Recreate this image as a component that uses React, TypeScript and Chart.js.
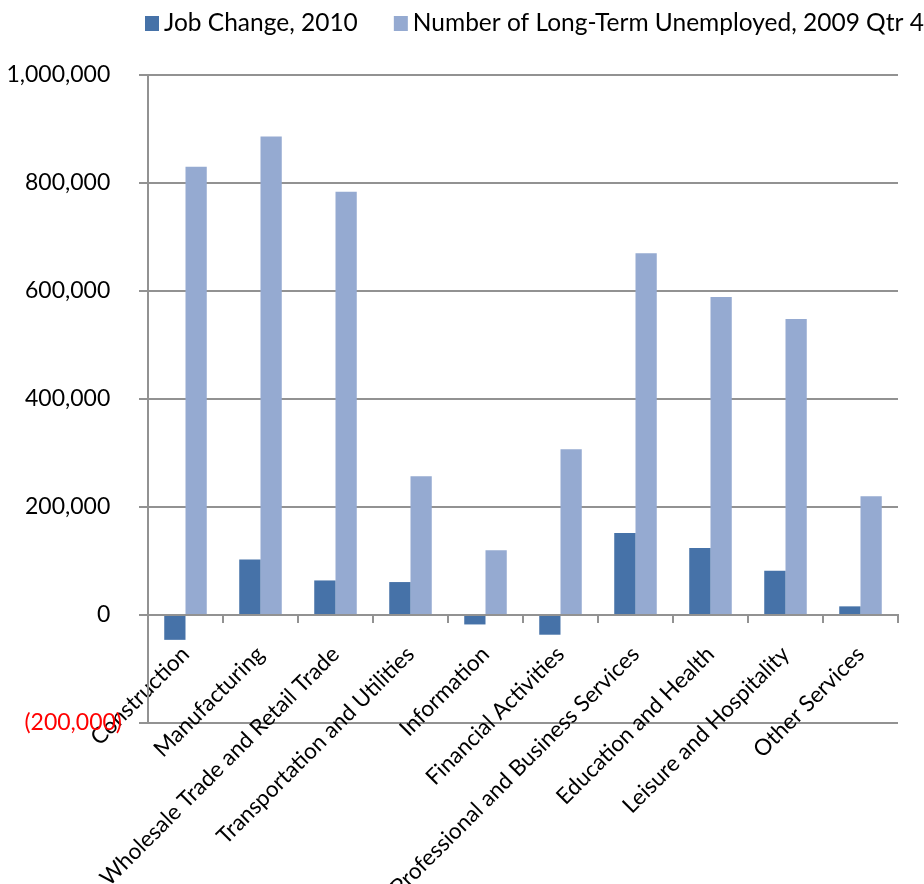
import React, { useEffect, useRef } from "react";
import { Chart, registerables } from "chart.js";

Chart.register(...registerables);

const categories = [
  "Construction",
  "Manufacturing",
  "Wholesale Trade and Retail Trade",
  "Transportation and Utilities",
  "Information",
  "Financial Activities",
  "Professional and Business Services",
  "Education and Health",
  "Leisure and Hospitality",
  "Other Services",
];
const jobChange2010 = [-46000, 103000, 64000, 61000, -17500, -36500, 152000, 124000, 82000, 16000];
const longTermUnemployed2009Q4 = [830000, 886000, 784000, 257000, 120000, 307000, 670000, 589000, 548000, 220000];
const seriesLabels = ["Job Change, 2010", "Number of Long-Term Unemployed, 2009 Qtr 4"];
const yTickMin = -200000;
const yTickMax = 1000000;
const yTickStep = 200000;

const DARK = "#4672A8";
const LIGHT = "#95AAD1";
const GRID = "#929292";
const FONT = "Lato, 'Open Sans', sans-serif";

function formatTick(v: number): string {
  const s = Math.abs(v).toLocaleString("en-US");
  return v < 0 ? `(${s})` : `${s}  `;
}

const fixedLegend = {
  id: "fixedLegend",
  afterDraw(chart: any) {
    const ctx = chart.ctx;
    ctx.save();
    ctx.font = `24.5px ${FONT}`;
    ctx.textAlign = "left";
    ctx.textBaseline = "alphabetic";
    let x = 145;
    chart.data.datasets.forEach((ds: any) => {
      ctx.fillStyle = ds.backgroundColor;
      ctx.fillRect(x, 16, 14, 15);
      ctx.fillStyle = "#000";
      ctx.fillText(ds.label, x + 19, 31);
      x += 19 + ctx.measureText(ds.label).width + 36;
    });
    ctx.restore();
  },
};

export default function App() {
  const ref = useRef<HTMLCanvasElement | null>(null);

  useEffect(() => {
    if (!ref.current) return;
    Chart.defaults.font.family = FONT;
    const chart = new Chart(ref.current, {
      type: "bar",
      data: {
        labels: categories,
        datasets: [
          {
            label: seriesLabels[0],
            data: jobChange2010,
            backgroundColor: DARK,
            categoryPercentage: 0.567,
            barPercentage: 1,
          },
          {
            label: seriesLabels[1],
            data: longTermUnemployed2009Q4,
            backgroundColor: LIGHT,
            categoryPercentage: 0.567,
            barPercentage: 1,
          },
        ],
      },
      options: {
        animation: false,
        responsive: true,
        maintainAspectRatio: false,
        layout: { padding: { top: 75, right: 26, bottom: 161, left: 0 } },
        plugins: {
          legend: { display: false },
          tooltip: { enabled: false },
        },
        scales: {
          x: {
            position: { y: 0 } as any,
            grid: {
              drawOnChartArea: false,
              drawTicks: true,
              tickLength: 7,
              color: GRID,
              lineWidth: 2,
            },
            border: { display: true, color: GRID, width: 2 },
            ticks: {
              autoSkip: false,
              maxRotation: 45,
              minRotation: 45,
              padding: 19,
              color: "#000",
              font: { size: 22.5, family: FONT },
            },
          },
          y: {
            min: yTickMin,
            max: yTickMax,
            grid: {
              color: GRID,
              lineWidth: 2,
              drawTicks: true,
              tickLength: 9,
            },
            border: { display: true, color: GRID, width: 2 },
            ticks: {
              stepSize: yTickStep,
              padding: 17,
              font: { size: 23, family: FONT },
              color: (c: any) => (c.tick && c.tick.value < 0 ? "#FF0000" : "#000"),
              callback: (v: any) => formatTick(Number(v)),
            },
            afterFit: (scale: any) => {
              scale.width = 148;
            },
          },
        },
      },
      plugins: [fixedLegend],
    });
    return () => chart.destroy();
  }, []);

  return (
    <div style={{ position: "absolute", left: 0, top: 0, width: 924, height: 884 }}>
      <canvas ref={ref} />
    </div>
  );
}
